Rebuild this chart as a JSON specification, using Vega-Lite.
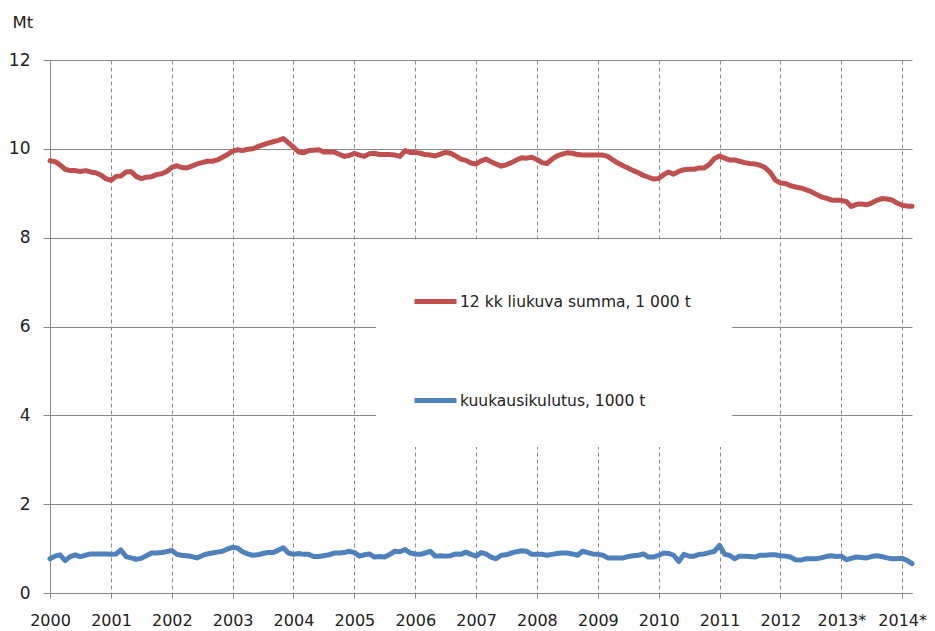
{
  "$schema": "https://vega.github.io/schema/vega-lite/v6.json",
  "width": 862,
  "height": 533,
  "autosize": {"type": "none"},
  "padding": {"left": 50, "top": 60, "right": 23, "bottom": 38},
  "background": "white",
  "config": {"view": {"stroke": null}},
  "encoding": {
    "x": {
      "field": "d", "type": "temporal",
      "scale": {"type": "utc", "domain": [{"year": 2000, "month": 1, "date": 1, "utc": true}, {"year": 2014, "month": 3, "date": 1, "utc": true}]},
      "axis": {
        "title": null,
        "values": [{"year": 2000, "utc": true}, {"year": 2001, "utc": true}, {"year": 2002, "utc": true}, {"year": 2003, "utc": true}, {"year": 2004, "utc": true}, {"year": 2005, "utc": true}, {"year": 2006, "utc": true}, {"year": 2007, "utc": true}, {"year": 2008, "utc": true}, {"year": 2009, "utc": true}, {"year": 2010, "utc": true}, {"year": 2011, "utc": true}, {"year": 2012, "utc": true}, {"year": 2013, "utc": true}, {"year": 2014, "utc": true}],
        "labelExpr": "utcyear(datum.value) >= 2013 ? utcyear(datum.value) + '*' : '' + utcyear(datum.value)",
        "grid": true, "gridDash": [4, 3], "gridColor": "#8a8a8a", "gridWidth": 1,
        "domainColor": "#8a8a8a", "tickColor": "#8a8a8a", "tickSize": 5,
        "labelFont": "DejaVu Sans", "labelFontSize": 16, "labelColor": "#222222",
        "labelPadding": 14, "labelFlush": false, "labelOverlap": false
      }
    },
    "y": {
      "field": "v", "type": "quantitative",
      "scale": {"domain": [0, 12], "nice": false},
      "axis": {
        "title": "Mt", "titleAngle": 0, "titleAlign": "left", "titleBaseline": "middle",
        "titleX": -38, "titleY": -38, "titleFont": "DejaVu Sans", "titleFontSize": 16.5,
        "titleFontWeight": "normal", "titleColor": "#222222",
        "values": [0, 2, 4, 6, 8, 10, 12],
        "grid": true, "gridColor": "#8a8a8a", "gridWidth": 1,
        "domainColor": "#8a8a8a", "tickColor": "#8a8a8a", "tickSize": 7,
        "labelFont": "DejaVu Sans", "labelFontSize": 17, "labelColor": "#222222",
        "labelPadding": 13
      }
    }
  },
  "layer": [
    {
      "data": {"values": [
        {"d":"2000-01","v":9.73},{"d":"2000-02","v":9.71},{"d":"2000-03","v":9.64},{"d":"2000-04","v":9.54},{"d":"2000-05","v":9.51},{"d":"2000-06","v":9.51},{"d":"2000-07","v":9.49},{"d":"2000-08","v":9.51},{"d":"2000-09","v":9.48},{"d":"2000-10","v":9.46},{"d":"2000-11","v":9.41},{"d":"2000-12","v":9.33},
        {"d":"2001-01","v":9.29},{"d":"2001-02","v":9.38},{"d":"2001-03","v":9.39},{"d":"2001-04","v":9.48},{"d":"2001-05","v":9.49},{"d":"2001-06","v":9.38},{"d":"2001-07","v":9.33},{"d":"2001-08","v":9.36},{"d":"2001-09","v":9.37},{"d":"2001-10","v":9.42},{"d":"2001-11","v":9.44},{"d":"2001-12","v":9.49},
        {"d":"2002-01","v":9.58},{"d":"2002-02","v":9.62},{"d":"2002-03","v":9.58},{"d":"2002-04","v":9.57},{"d":"2002-05","v":9.61},{"d":"2002-06","v":9.66},{"d":"2002-07","v":9.69},{"d":"2002-08","v":9.72},{"d":"2002-09","v":9.72},{"d":"2002-10","v":9.75},{"d":"2002-11","v":9.81},{"d":"2002-12","v":9.87},
        {"d":"2003-01","v":9.95},{"d":"2003-02","v":9.98},{"d":"2003-03","v":9.96},{"d":"2003-04","v":9.99},{"d":"2003-05","v":10.0},{"d":"2003-06","v":10.05},{"d":"2003-07","v":10.09},{"d":"2003-08","v":10.13},{"d":"2003-09","v":10.16},{"d":"2003-10","v":10.19},{"d":"2003-11","v":10.23},{"d":"2003-12","v":10.14},
        {"d":"2004-01","v":10.04},{"d":"2004-02","v":9.93},{"d":"2004-03","v":9.91},{"d":"2004-04","v":9.96},{"d":"2004-05","v":9.97},{"d":"2004-06","v":9.98},{"d":"2004-07","v":9.93},{"d":"2004-08","v":9.93},{"d":"2004-09","v":9.93},{"d":"2004-10","v":9.88},{"d":"2004-11","v":9.83},{"d":"2004-12","v":9.85},
        {"d":"2005-01","v":9.9},{"d":"2005-02","v":9.86},{"d":"2005-03","v":9.83},{"d":"2005-04","v":9.89},{"d":"2005-05","v":9.9},{"d":"2005-06","v":9.87},{"d":"2005-07","v":9.87},{"d":"2005-08","v":9.87},{"d":"2005-09","v":9.86},{"d":"2005-10","v":9.83},{"d":"2005-11","v":9.96},{"d":"2005-12","v":9.92},
        {"d":"2006-01","v":9.92},{"d":"2006-02","v":9.9},{"d":"2006-03","v":9.87},{"d":"2006-04","v":9.86},{"d":"2006-05","v":9.84},{"d":"2006-06","v":9.88},{"d":"2006-07","v":9.92},{"d":"2006-08","v":9.9},{"d":"2006-09","v":9.84},{"d":"2006-10","v":9.77},{"d":"2006-11","v":9.74},{"d":"2006-12","v":9.68},
        {"d":"2007-01","v":9.66},{"d":"2007-02","v":9.73},{"d":"2007-03","v":9.77},{"d":"2007-04","v":9.71},{"d":"2007-05","v":9.66},{"d":"2007-06","v":9.61},{"d":"2007-07","v":9.64},{"d":"2007-08","v":9.69},{"d":"2007-09","v":9.75},{"d":"2007-10","v":9.8},{"d":"2007-11","v":9.79},{"d":"2007-12","v":9.81},
        {"d":"2008-01","v":9.76},{"d":"2008-02","v":9.69},{"d":"2008-03","v":9.67},{"d":"2008-04","v":9.77},{"d":"2008-05","v":9.84},{"d":"2008-06","v":9.88},{"d":"2008-07","v":9.91},{"d":"2008-08","v":9.9},{"d":"2008-09","v":9.87},{"d":"2008-10","v":9.86},{"d":"2008-11","v":9.86},{"d":"2008-12","v":9.86},
        {"d":"2009-01","v":9.86},{"d":"2009-02","v":9.86},{"d":"2009-03","v":9.83},{"d":"2009-04","v":9.75},{"d":"2009-05","v":9.68},{"d":"2009-06","v":9.62},{"d":"2009-07","v":9.57},{"d":"2009-08","v":9.51},{"d":"2009-09","v":9.46},{"d":"2009-10","v":9.4},{"d":"2009-11","v":9.36},{"d":"2009-12","v":9.32},
        {"d":"2010-01","v":9.33},{"d":"2010-02","v":9.42},{"d":"2010-03","v":9.48},{"d":"2010-04","v":9.43},{"d":"2010-05","v":9.49},{"d":"2010-06","v":9.53},{"d":"2010-07","v":9.54},{"d":"2010-08","v":9.54},{"d":"2010-09","v":9.57},{"d":"2010-10","v":9.57},{"d":"2010-11","v":9.65},{"d":"2010-12","v":9.78},
        {"d":"2011-01","v":9.84},{"d":"2011-02","v":9.79},{"d":"2011-03","v":9.75},{"d":"2011-04","v":9.75},{"d":"2011-05","v":9.72},{"d":"2011-06","v":9.69},{"d":"2011-07","v":9.67},{"d":"2011-08","v":9.66},{"d":"2011-09","v":9.63},{"d":"2011-10","v":9.58},{"d":"2011-11","v":9.47},{"d":"2011-12","v":9.3},
        {"d":"2012-01","v":9.23},{"d":"2012-02","v":9.22},{"d":"2012-03","v":9.17},{"d":"2012-04","v":9.14},{"d":"2012-05","v":9.12},{"d":"2012-06","v":9.08},{"d":"2012-07","v":9.04},{"d":"2012-08","v":8.98},{"d":"2012-09","v":8.92},{"d":"2012-10","v":8.89},{"d":"2012-11","v":8.85},{"d":"2012-12","v":8.84},
        {"d":"2013-01","v":8.84},{"d":"2013-02","v":8.81},{"d":"2013-03","v":8.7},{"d":"2013-04","v":8.75},{"d":"2013-05","v":8.76},{"d":"2013-06","v":8.74},{"d":"2013-07","v":8.78},{"d":"2013-08","v":8.84},{"d":"2013-09","v":8.88},{"d":"2013-10","v":8.87},{"d":"2013-11","v":8.85},{"d":"2013-12","v":8.78},
        {"d":"2014-01","v":8.73},{"d":"2014-02","v":8.71},{"d":"2014-03","v":8.71}
      ]},
      "mark": {"type": "line", "strokeWidth": 5, "strokeJoin": "round", "strokeCap": "round"},
      "encoding": {
        "color": {
          "datum": "12 kk liukuva summa,  1 000 t",
          "type": "nominal",
          "scale": {"domain": ["12 kk liukuva summa,  1 000 t", "kuukausikulutus, 1000 t"], "range": ["#C0504D", "#4F81BD"]},
          "legend": {
            "title": null, "orient": "none", "legendX": 326, "legendY": 182,
            "direction": "vertical", "padding": 36, "fillColor": "white", "strokeColor": null,
            "symbolType": "stroke", "symbolSize": 1764, "symbolStrokeWidth": 5,
            "rowPadding": 65, "labelFont": "DejaVu Sans", "labelFontSize": 15.5,
            "labelColor": "#222222", "labelOffset": 1, "labelLimit": 400
          }
        }
      }
    },
    {
      "data": {"values": [
        {"d":"2000-01","v":0.77},{"d":"2000-02","v":0.83},{"d":"2000-03","v":0.86},{"d":"2000-04","v":0.73},{"d":"2000-05","v":0.82},{"d":"2000-06","v":0.86},{"d":"2000-07","v":0.82},{"d":"2000-08","v":0.85},{"d":"2000-09","v":0.88},{"d":"2000-10","v":0.88},{"d":"2000-11","v":0.88},{"d":"2000-12","v":0.88},
        {"d":"2001-01","v":0.87},{"d":"2001-02","v":0.88},{"d":"2001-03","v":0.97},{"d":"2001-04","v":0.82},{"d":"2001-05","v":0.79},{"d":"2001-06","v":0.76},{"d":"2001-07","v":0.78},{"d":"2001-08","v":0.84},{"d":"2001-09","v":0.9},{"d":"2001-10","v":0.9},{"d":"2001-11","v":0.91},{"d":"2001-12","v":0.93},
        {"d":"2002-01","v":0.96},{"d":"2002-02","v":0.87},{"d":"2002-03","v":0.85},{"d":"2002-04","v":0.84},{"d":"2002-05","v":0.82},{"d":"2002-06","v":0.79},{"d":"2002-07","v":0.84},{"d":"2002-08","v":0.88},{"d":"2002-09","v":0.9},{"d":"2002-10","v":0.92},{"d":"2002-11","v":0.94},{"d":"2002-12","v":0.99},
        {"d":"2003-01","v":1.03},{"d":"2003-02","v":1.01},{"d":"2003-03","v":0.93},{"d":"2003-04","v":0.88},{"d":"2003-05","v":0.85},{"d":"2003-06","v":0.86},{"d":"2003-07","v":0.89},{"d":"2003-08","v":0.91},{"d":"2003-09","v":0.91},{"d":"2003-10","v":0.96},{"d":"2003-11","v":1.02},{"d":"2003-12","v":0.9},
        {"d":"2004-01","v":0.87},{"d":"2004-02","v":0.89},{"d":"2004-03","v":0.87},{"d":"2004-04","v":0.87},{"d":"2004-05","v":0.82},{"d":"2004-06","v":0.82},{"d":"2004-07","v":0.84},{"d":"2004-08","v":0.86},{"d":"2004-09","v":0.9},{"d":"2004-10","v":0.9},{"d":"2004-11","v":0.91},{"d":"2004-12","v":0.94},
        {"d":"2005-01","v":0.91},{"d":"2005-02","v":0.83},{"d":"2005-03","v":0.86},{"d":"2005-04","v":0.88},{"d":"2005-05","v":0.81},{"d":"2005-06","v":0.82},{"d":"2005-07","v":0.81},{"d":"2005-08","v":0.87},{"d":"2005-09","v":0.94},{"d":"2005-10","v":0.93},{"d":"2005-11","v":0.98},{"d":"2005-12","v":0.9},
        {"d":"2006-01","v":0.88},{"d":"2006-02","v":0.87},{"d":"2006-03","v":0.9},{"d":"2006-04","v":0.94},{"d":"2006-05","v":0.83},{"d":"2006-06","v":0.84},{"d":"2006-07","v":0.83},{"d":"2006-08","v":0.84},{"d":"2006-09","v":0.88},{"d":"2006-10","v":0.87},{"d":"2006-11","v":0.92},{"d":"2006-12","v":0.87},
        {"d":"2007-01","v":0.83},{"d":"2007-02","v":0.91},{"d":"2007-03","v":0.88},{"d":"2007-04","v":0.81},{"d":"2007-05","v":0.77},{"d":"2007-06","v":0.85},{"d":"2007-07","v":0.86},{"d":"2007-08","v":0.9},{"d":"2007-09","v":0.93},{"d":"2007-10","v":0.95},{"d":"2007-11","v":0.94},{"d":"2007-12","v":0.87},
        {"d":"2008-01","v":0.87},{"d":"2008-02","v":0.87},{"d":"2008-03","v":0.85},{"d":"2008-04","v":0.87},{"d":"2008-05","v":0.89},{"d":"2008-06","v":0.9},{"d":"2008-07","v":0.9},{"d":"2008-08","v":0.88},{"d":"2008-09","v":0.85},{"d":"2008-10","v":0.94},{"d":"2008-11","v":0.91},{"d":"2008-12","v":0.88},
        {"d":"2009-01","v":0.87},{"d":"2009-02","v":0.85},{"d":"2009-03","v":0.79},{"d":"2009-04","v":0.79},{"d":"2009-05","v":0.79},{"d":"2009-06","v":0.79},{"d":"2009-07","v":0.82},{"d":"2009-08","v":0.84},{"d":"2009-09","v":0.85},{"d":"2009-10","v":0.88},{"d":"2009-11","v":0.81},{"d":"2009-12","v":0.81},
        {"d":"2010-01","v":0.85},{"d":"2010-02","v":0.9},{"d":"2010-03","v":0.89},{"d":"2010-04","v":0.85},{"d":"2010-05","v":0.71},{"d":"2010-06","v":0.87},{"d":"2010-07","v":0.83},{"d":"2010-08","v":0.83},{"d":"2010-09","v":0.87},{"d":"2010-10","v":0.88},{"d":"2010-11","v":0.91},{"d":"2010-12","v":0.94},
        {"d":"2011-01","v":1.07},{"d":"2011-02","v":0.87},{"d":"2011-03","v":0.85},{"d":"2011-04","v":0.77},{"d":"2011-05","v":0.83},{"d":"2011-06","v":0.83},{"d":"2011-07","v":0.82},{"d":"2011-08","v":0.81},{"d":"2011-09","v":0.85},{"d":"2011-10","v":0.85},{"d":"2011-11","v":0.86},{"d":"2011-12","v":0.86},
        {"d":"2012-01","v":0.84},{"d":"2012-02","v":0.83},{"d":"2012-03","v":0.81},{"d":"2012-04","v":0.75},{"d":"2012-05","v":0.74},{"d":"2012-06","v":0.77},{"d":"2012-07","v":0.77},{"d":"2012-08","v":0.77},{"d":"2012-09","v":0.79},{"d":"2012-10","v":0.82},{"d":"2012-11","v":0.84},{"d":"2012-12","v":0.82},
        {"d":"2013-01","v":0.83},{"d":"2013-02","v":0.75},{"d":"2013-03","v":0.78},{"d":"2013-04","v":0.81},{"d":"2013-05","v":0.8},{"d":"2013-06","v":0.79},{"d":"2013-07","v":0.82},{"d":"2013-08","v":0.84},{"d":"2013-09","v":0.82},{"d":"2013-10","v":0.79},{"d":"2013-11","v":0.77},{"d":"2013-12","v":0.77},
        {"d":"2014-01","v":0.78},{"d":"2014-02","v":0.73},{"d":"2014-03","v":0.66}
      ]},
      "mark": {"type": "line", "strokeWidth": 5, "strokeJoin": "round", "strokeCap": "round"},
      "encoding": {
        "color": {"datum": "kuukausikulutus, 1000 t", "type": "nominal"}
      }
    }
  ]
}
